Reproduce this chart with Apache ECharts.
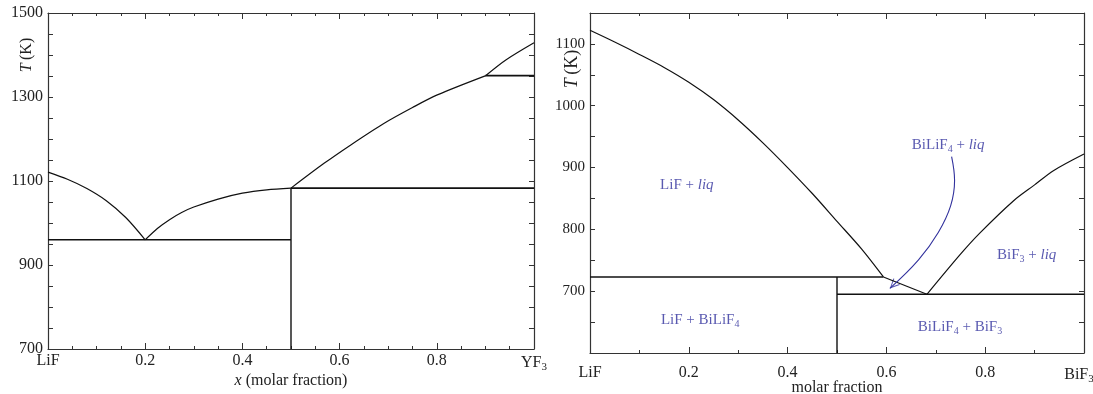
<!DOCTYPE html>
<html>
<head>
<meta charset="utf-8">
<script src="https://cdn.jsdelivr.net/npm/echarts@6/dist/echarts.min.js"></script>
<style>
  html, body { margin: 0; padding: 0; background: #fff; }
  #main { width: 1093px; height: 394px; }
</style>
</head>
<body>
<div id="main"></div>
<script>
// LiF - YF3 (left panel)
const lyLiqLiF = [[0, 1121], [0.04, 1104], [0.08, 1082], [0.12, 1053], [0.16, 1013], [0.2, 960]];
const lyLiqMid = [[0.2, 960], [0.225, 987], [0.25, 1008], [0.275, 1025], [0.3, 1038], [0.35, 1057], [0.4, 1071], [0.45, 1079], [0.5, 1083]];
const lyLiqHigh = [[0.5, 1083], [0.568, 1142], [0.623, 1186], [0.691, 1237], [0.75, 1275], [0.801, 1305], [0.901, 1351]];
const lyLiqYF3 = [[0.901, 1351], [0.942, 1388], [1.0, 1429]];
const lyEutectic = [[0, 960], [0.5, 960]];
const lyPeritectic = [[0.5, 1083], [1, 1083]];
const lyTransition = [[0.9, 1351], [1, 1351]];
const lyCompound = [[0.5, 700], [0.5, 1083]];
const lyEndLabels = ['LiF', 'YF'];

// LiF - BiF3 (right panel)
const lbLiqLiF = [[0, 1122], [0.05, 1103], [0.1, 1083], [0.15, 1062], [0.2, 1038], [0.25, 1010], [0.3, 977], [0.35, 940], [0.4, 900], [0.45, 858], [0.5, 813], [0.55, 768], [0.594, 723]];
const lbLiqComp = [[0.594, 723], [0.682, 695]];
const lbLiqBiF3 = [[0.682, 695], [0.75, 760], [0.789, 794], [0.857, 846], [0.9, 872], [0.938, 895], [1.0, 922]];
const lbPeritectic = [[0, 723], [0.594, 723]];
const lbEutectic = [[0.5, 695], [1, 695]];
const lbCompound = [[0.5, 600], [0.5, 723]];
const lbEndLabels = ['LiF', 'BiF'];
const lbRegions = [
  { value: [0.196, 871], text: '{n|LiF + }{i|liq}' },
  { value: [0.223, 653], text: '{n|LiF + BiLiF}{s|4}' },
  { value: [0.725, 936], text: '{n|BiLiF}{s|4}{n| + }{i|liq}' },
  { value: [0.884, 758], text: '{n|BiF}{s|3}{n| + }{i|liq}' },
  { value: [0.749, 642], text: '{n|BiLiF}{s|4}{n| + BiF}{s|3}' }
];
// annotation arrow path, ends at the tip
const lbArrow = [[0.732, 917.5], [0.738, 879], [0.730, 838], [0.705, 795], [0.665, 750.6], [0.607, 704.5]];

const FONT = 'Liberation Serif';
const BLUE = '#30309c';
const AXIS = { onZero: false, lineStyle: { color: '#333', width: 1.2 } };

function xAxis(grid, pos, endLabels, margin, tickSplit, showLabel, name, nameGap) {
  return {
    type: 'value', gridIndex: grid, position: pos, min: 0, max: 1, interval: 0.2,
    axisLine: AXIS,
    axisTick: { inside: true, length: 6, lineStyle: { color: '#333' } },
    minorTick: { show: true, splitNumber: tickSplit, length: 3, lineStyle: { color: '#333' } },
    splitLine: { show: false },
    axisLabel: {
      show: showLabel, margin: margin, color: '#222', fontFamily: FONT, fontSize: 16,
      showMinLabel: true, showMaxLabel: true, hideOverlap: false,
      formatter: v => v === 0 ? endLabels[0] : (Math.abs(v - 1) < 1e-9 ? '{n|' + endLabels[1] + '}{s|3}{p|}' : v.toFixed(1)),
      rich: {
        n: { fontFamily: FONT, fontSize: 16, color: '#222' },
        s: { fontFamily: FONT, fontSize: 11, color: '#222', padding: [9, 0, 0, 0] },
        p: { width: grid === 1 ? 10 : 0 }
      }
    },
    name: name, nameLocation: 'middle', nameGap: nameGap, nameMoveOverlap: false,
    nameTextStyle: {
      fontFamily: FONT, fontSize: 16, color: '#222',
      rich: {
        i: { fontFamily: FONT, fontSize: 16, color: '#222', fontStyle: 'italic' },
        n: { fontFamily: FONT, fontSize: 16, color: '#222' }
      }
    }
  };
}

function yAxis(grid, pos, min, max, fmt, fontSize, showLabel) {
  return {
    type: 'value', gridIndex: grid, position: pos, min: min, max: max, interval: 50,
    axisLine: AXIS,
    axisTick: { inside: true, length: 5, lineStyle: { color: '#333' } },
    splitLine: { show: false },
    axisLabel: { show: showLabel, margin: 5, color: '#222', fontFamily: FONT, fontSize: fontSize, formatter: fmt, showMinLabel: true, showMaxLabel: true }
  };
}

function line(xi, data, width) {
  return {
    type: 'line', xAxisIndex: xi, yAxisIndex: xi, data: data, symbol: 'none',
    smooth: 0.3, silent: true, animation: false,
    lineStyle: { color: '#111', width: width || 1.2 }
  };
}

const leftYFmt = v => ((v - 700) % 200 === 0 ? String(v) : '');
const rightYFmt = v => (v % 100 === 0 && v >= 700 && v <= 1100 ? String(v) : '');

const chart = echarts.init(document.getElementById('main'), null, { renderer: 'canvas' });
chart.setOption({
  animation: false,
  backgroundColor: '#fff',
  grid: [
    { left: 48, top: 13, width: 486, height: 336, outerBoundsMode: 'none', containLabel: false },
    { left: 590, top: 13, width: 494, height: 340, outerBoundsMode: 'none', containLabel: false }
  ],
  xAxis: [
    xAxis(0, 'bottom', lyEndLabels, 4, 4, true, '{i|x} {n|(molar fraction)}', 24),
    xAxis(0, 'top', lyEndLabels, 4, 4, false, '', 0),
    xAxis(1, 'bottom', lbEndLabels, 12, 2, true, 'molar fraction', 27),
    xAxis(1, 'top', lbEndLabels, 12, 2, false, '', 0)
  ],
  yAxis: [
    yAxis(0, 'left', 700, 1500, leftYFmt, 16, true),
    yAxis(0, 'right', 700, 1500, leftYFmt, 16, false),
    yAxis(1, 'left', 600, 1150, rightYFmt, 15, true),
    yAxis(1, 'right', 600, 1150, rightYFmt, 15, false)
  ],
  graphic: [
    {
      type: 'text', x: 27, y: 55, rotation: Math.PI / 2,
      style: {
        text: '{i|T} {n|(K)}', align: 'center', verticalAlign: 'middle',
        rich: {
          i: { fontFamily: FONT, fontSize: 16, fill: '#222', fontStyle: 'italic' },
          n: { fontFamily: FONT, fontSize: 16, fill: '#222' }
        }
      }
    },
    {
      type: 'text', x: 572, y: 69, rotation: Math.PI / 2,
      style: {
        text: '{i|T} {n|(K)}', align: 'center', verticalAlign: 'middle',
        rich: {
          i: { fontFamily: FONT, fontSize: 18, fill: '#222', fontStyle: 'italic' },
          n: { fontFamily: FONT, fontSize: 18, fill: '#222' }
        }
      }
    }
  ],
  series: [
    line(0, lyLiqLiF), line(0, lyLiqMid), line(0, lyLiqHigh), line(0, lyLiqYF3),
    line(0, lyEutectic, 1.6), line(0, lyPeritectic, 1.6), line(0, lyTransition, 1.6), line(0, lyCompound, 1.4),
    line(2, lbLiqLiF), line(2, lbLiqComp), line(2, lbLiqBiF3),
    line(2, lbPeritectic, 1.6), line(2, lbEutectic, 1.6), line(2, lbCompound, 1.4),
    {
      type: 'scatter', xAxisIndex: 2, yAxisIndex: 2, symbolSize: 0, silent: true,
      data: lbRegions,
      label: {
        show: true, position: 'inside', formatter: p => p.data.text,
        rich: {
          n: { fontFamily: FONT, fontSize: 15, color: BLUE, lineHeight: 18 },
          i: { fontFamily: FONT, fontSize: 15, color: BLUE, fontStyle: 'italic', lineHeight: 18 },
          s: { fontFamily: FONT, fontSize: 10, color: BLUE, padding: [8, 0, 0, 0] }
        }
      }
    },
    {
      // curved annotation arrow body
      type: 'line', xAxisIndex: 2, yAxisIndex: 2, data: lbArrow, symbol: 'none',
      smooth: 0.4, silent: true, animation: false,
      lineStyle: { color: BLUE, width: 1.1 }
    },
    {
      // arrow head at the last point of the arrow path
      type: 'scatter', xAxisIndex: 2, yAxisIndex: 2, silent: true, animation: false,
      data: [lbArrow[lbArrow.length - 1]],
      symbol: 'path://M0,0 L5,10 L4,10.6 L0,2.4 L-4,10.6 L-5,10 Z',
      symbolSize: [9, 10], symbolRotate: 135, symbolOffset: [3.5, -3.5],
      itemStyle: { color: BLUE }
    }
  ]
});
window.onresize = chart.resize;
</script>
</body>
</html>
